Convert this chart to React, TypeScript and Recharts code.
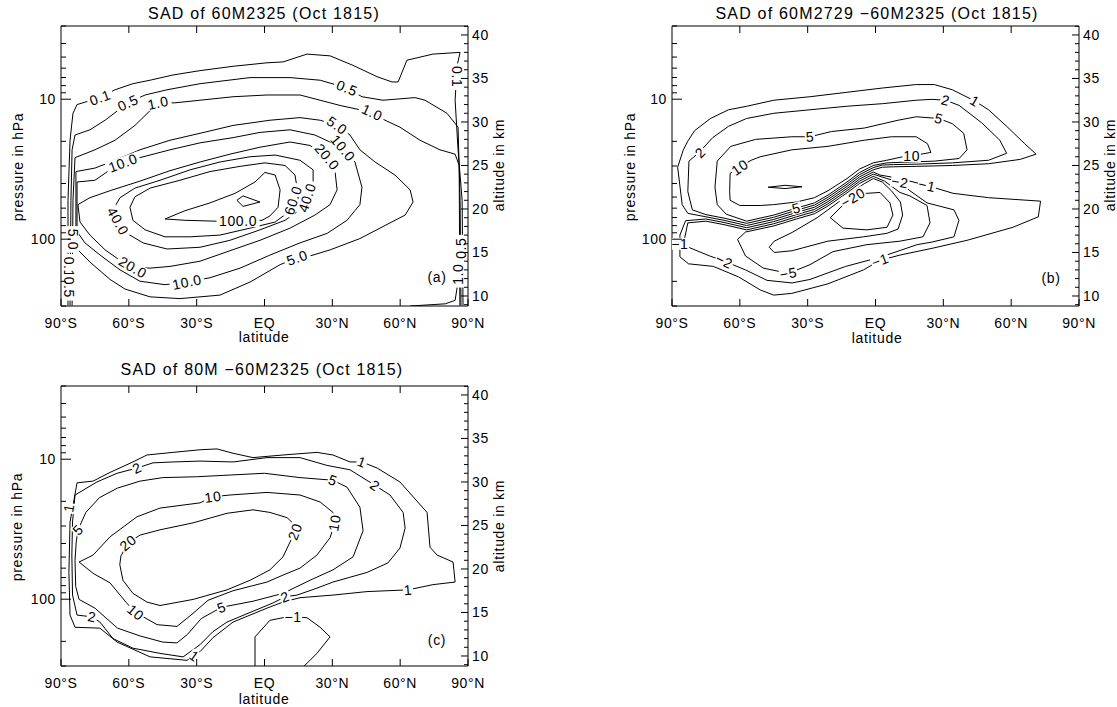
import React from 'react';
import { ComposedChart, Line, Scatter, XAxis, YAxis } from 'recharts';

type Pt = [number, number];
type Lab = [string, number, number, number];

const FONT = '"Liberation Sans", Arial, Helvetica, sans-serif';

// ---------- axes ----------
const LAT_TICKS = [-90, -60, -30, 0, 30, 60, 90];
const LAT_LABELS = ['90°S', '60°S', '30°S', 'EQ', '30°N', '60°N', '90°N'];
const P_TICKS = [3, 4, 5, 6, 7, 8, 9, 10, 20, 30, 40, 50, 60, 70, 80, 90, 100, 200, 300];
const P_LABELED = [10, 100];
const KM_TICKS = [9, 10, 11, 12, 13, 14, 15, 16, 17, 18, 19, 20, 21, 22, 23, 24, 25, 26, 27, 28, 29, 30, 31, 32, 33, 34, 35, 36, 37, 38, 39, 40, 41];
const KM_LABELED = [10, 15, 20, 25, 30, 35, 40];

// ---------- panel (a): SAD of 60M2325 ; contours as [latitude, altitude km] ----------
const A_01: Pt[] = [[-86.9, 8.9], [-86.9, 21], [-86, 27.9], [-84.7, 31], [-82.9, 32], [-72.7, 32.8], [-66.1, 33.7], [-58.2, 34.4], [-50.6, 34.8], [-40.5, 35.4], [-28.5, 35.9], [-13.9, 36.4], [1.1, 36.8], [8.2, 36.9], [18.8, 37.8], [29, 37.6], [39.2, 36.5], [49.8, 35.2], [56.4, 34.6], [59.1, 34.6], [63, 37.1], [74.5, 37.8], [86.5, 38], [85.2, 36.5], [84.3, 32.5], [85.6, 26.8], [87.4, 21], [87.8, 8.9]];
const A_01B: Pt[] = [[64.4, 8.85], [80, 9.1], [84.3, 9.5], [85.2, 11], [86, 14]];
const A_05: Pt[] = [[-86, 8.9], [-85.6, 21], [-85.1, 26.8], [-83.8, 28.5], [-77.2, 29.1], [-70.5, 30.2], [-60.4, 32.2], [-52.8, 33.1], [-43.1, 33.7], [-28.5, 34.4], [-6.4, 35.1], [11.3, 35.1], [24.6, 34.8], [36.5, 33.9], [43.1, 32.9], [52.4, 32.5], [66.6, 32.8], [71, 32.5], [80.7, 31], [85.6, 29.4], [86.5, 21], [86.9, 8.9]];
const A_1: Pt[] = [[-85.1, 8.9], [-84.7, 21], [-83.8, 25.9], [-75, 26.8], [-66.1, 27.9], [-57.3, 29.6], [-47.1, 32.2], [-39.6, 32.2], [-28.5, 32.5], [-13.9, 32.9], [1.1, 33.1], [15.7, 33.1], [24.6, 32.5], [33.4, 31.9], [47.6, 31.1], [53.3, 30.2], [59.9, 29.4], [68.8, 27.9], [77.6, 26.8], [84.3, 26.3], [86.1, 25], [86.4, 8.9]];
const A_5: Pt[] = [[-83.4, 16.4], [-83.4, 24.3], [-75, 24.7], [-66.1, 25.6], [-55.1, 26.8], [-41.8, 27.9], [-28.5, 28.7], [-13.9, 29.6], [2.4, 30.2], [15.7, 30.5], [24.6, 30.2], [32.1, 29.6], [37.8, 28.5], [42.2, 26.8], [48.9, 25.4], [57.7, 23.9], [64.4, 22.2], [65.7, 20.8], [62.2, 19.3], [53.3, 18.1], [42.2, 16.6], [29, 15.3], [20.1, 14.6], [14.4, 14.4], [6.9, 13.6], [-6.4, 11.6], [-19.7, 10.1], [-37.4, 9.7], [-50.6, 9.9], [-61.7, 10.8], [-68.3, 11.9], [-77.2, 13.9], [-82.5, 15.3], [-83.4, 16.4]];
const A_10: Pt[] = [[-82.9, 17.4], [-82.9, 23.1], [-75, 23.3], [-68.3, 24.5], [-62.6, 25.3], [-55.1, 25.9], [-41.8, 26.8], [-28.5, 27.6], [-13.9, 28.2], [-2, 28.8], [11.3, 29.1], [22.3, 28.5], [34.7, 27], [40, 25.4], [43.1, 22.5], [42.2, 20.5], [36.5, 18.7], [27.7, 17.2], [15.7, 16.1], [2.4, 14.7], [-10.8, 13.2], [-24.1, 12.1], [-34.3, 11.6], [-44, 11.3], [-55.1, 11.7], [-63.9, 13], [-72.7, 14.7], [-79.4, 16.1], [-82.9, 17.4]];
const A_20: Pt[] = [[-82.5, 20.5], [-77.2, 21.3], [-68.3, 22.1], [-55.1, 23.2], [-41.8, 24.4], [-28.5, 25.4], [-15.3, 26.3], [-2, 27.1], [11.3, 27.7], [20.1, 27.3], [27.7, 26], [31.2, 24.3], [32.1, 22.2], [29, 20.5], [22.3, 19.3], [11.3, 17.8], [-2, 16.4], [-15.3, 15.2], [-28.5, 14], [-41.8, 13.4], [-50.6, 13.2], [-58.2, 13.3], [-63.9, 14.1], [-70.5, 15.3], [-77.2, 17], [-81.6, 18.5], [-82.5, 20.5]];
const A_40: Pt[] = [[-67, 19.9], [-63.9, 21.3], [-57.3, 22.4], [-46.2, 23.3], [-32.9, 24.5], [-19.7, 25.4], [-6.4, 26], [4.7, 26.2], [15.7, 25.6], [21.5, 24.5], [21.5, 22.8], [18.8, 21.3], [15.7, 19.9], [9.1, 18.7], [-2, 17.6], [-15.3, 16.4], [-28.5, 15.6], [-43.1, 15.4], [-53.7, 16.1], [-60.8, 17.2], [-64.8, 18.5], [-67, 19.9]];
const A_60: Pt[] = [[-59.5, 20.2], [-57.3, 21.4], [-50.6, 22.4], [-37.4, 23.3], [-24.1, 24.3], [-10.8, 24.9], [0.2, 25.3], [9.1, 25], [13.5, 23.9], [14.4, 22.4], [12.6, 21], [10.4, 19.6], [4.7, 18.5], [-6.4, 17.8], [-19.7, 17], [-32.9, 16.8], [-44, 16.8], [-52.8, 17.6], [-58.2, 18.7], [-59.5, 20.2]];
const A_100: Pt[] = [[-44, 18.85], [-35.2, 19.8], [-24.1, 20.7], [-13, 21.8], [-4.2, 23.1], [0.2, 24.2], [4.7, 23.9], [6.9, 22.2], [6, 20.2], [2.4, 19.2], [-1.1, 18.7], [-11.7, 18.6], [-21.9, 18.6], [-35.2, 18.7], [-44, 18.85]];
const A_100B: Pt[] = [[-12.2, 21], [-9.5, 21.5], [-2, 20.8], [-9.5, 20.3], [-12.2, 21]];
const A_LABELS: Lab[] = [
  ['0.1', -72.7, 32.8, -20], ['0.5', -60.4, 32.2, -25], ['1.0', -47.1, 32.2, -12], ['0.5', 36.5, 33.9, 22],
  ['1.0', 47.6, 31.1, 25], ['0.1', 85.2, 35.2, 90], ['10.0', -62.6, 25.3, -20], ['5.0', 32.1, 29.6, 35],
  ['10.0', 34.7, 27, 50], ['20.0', 27.7, 26, 50], ['60.0', 12.6, 21, -72], ['40.0', 18.8, 21.3, -72],
  ['100.0', -11.7, 18.6, 0], ['40.0', -64.8, 18.6, 60], ['20.0', -58.2, 13.3, 30], ['10.0', -34.3, 11.6, -12],
  ['5.0', 14.4, 14.4, -20], ['5.0', -84.7, 16.5, 90], ['0.1', -86.5, 13.3, 90], ['0.5', -86.5, 11, 90],
  ['1.0', 85.6, 12.5, -90], ['0.5', 86.8, 15.5, -90],
];

// ---------- panel (b): SAD of 60M2729 - 60M2325 ----------
const B_P1: Pt[] = [[-85, 26.8], [-83, 27.8], [-80, 29], [-73, 30.4], [-65, 31.4], [-57, 31.8], [-45, 32.5], [-29, 32.9], [-13, 33.4], [3, 33.9], [18, 34.3], [26, 34.3], [34, 33.7], [44, 32.4], [50, 31.4], [58, 29.5], [66, 27.5], [71, 26.3], [64, 25.7], [50, 25.2], [34, 25], [18, 24.9], [8, 24.85], [3, 24.8], [-1, 24.5], [-7, 23.7], [-12.6, 22.6], [-21, 21.1], [-27, 20.2], [-35, 19.6], [-45, 18.8], [-57, 18.1], [-67, 18.7], [-75, 19.1], [-83, 19.5], [-85.5, 20.5], [-87.5, 24.8], [-85, 26.8]];
const B_P2: Pt[] = [[-83, 22], [-82.5, 25.5], [-78, 26.5], [-72, 28.2], [-65, 29.5], [-57, 30.4], [-45, 31], [-29, 31.4], [-13, 31.8], [3, 32.1], [18, 32.5], [25, 32.6], [31, 32.5], [37, 31.9], [47, 29.9], [55, 27.9], [58, 26.4], [50, 25.6], [34, 25.3], [18, 25.15], [8, 25.1], [3, 25.05], [-1, 24.75], [-7, 23.95], [-12.6, 22.85], [-21, 21.35], [-27, 20.45], [-35, 19.85], [-45, 19.05], [-57, 18.35], [-67, 18.95], [-75, 19.35], [-81, 19.9], [-83, 22]];
const B_P5: Pt[] = [[-71, 22.5], [-70, 25.5], [-64, 27.2], [-53, 28], [-37, 28.3], [-29, 28.3], [-19.5, 28.9], [-5, 29.3], [10, 30.2], [18, 30.6], [28, 30.4], [34, 29.8], [39, 28.7], [40.5, 26.8], [37, 25.8], [26, 25.5], [15, 25.4], [5, 25.3], [-1, 25], [-7, 24.2], [-12.6, 23.1], [-21, 21.6], [-27, 20.7], [-35, 20.1], [-45, 19.3], [-57, 18.6], [-66, 19.4], [-70, 20.5], [-71, 22.5]];
const B_P10: Pt[] = [[-64.5, 22], [-64.3, 24.1], [-60, 24.8], [-55, 25.6], [-51, 26], [-37, 26.8], [-21, 27.2], [-5, 27.9], [7, 28.3], [18, 28.3], [23, 27.5], [24.5, 26.5], [18, 26.2], [12, 26], [5, 25.6], [-1, 25.3], [-7, 24.6], [-12.6, 23.5], [-21, 22.1], [-27, 21.3], [-35, 20.8], [-45, 20.5], [-51, 20.4], [-60, 20.4], [-64.3, 21], [-64.5, 22]];
const B_P20: Pt[] = [[-47.5, 22.5], [-40, 22.72], [-32.5, 22.55], [-40, 22.35], [-47.5, 22.5]];
const B_M1: Pt[] = [[-86.5, 14.5], [-86.5, 17], [-84, 18.65], [-75, 18.85], [-67, 18.45], [-57, 17.85], [-45, 18.55], [-35, 19.35], [-27, 19.95], [-21, 20.85], [-12.6, 22.35], [-7, 23.45], [-1, 24.25], [2, 23.9], [10.8, 23.5], [22.8, 22.7], [34.3, 21.8], [50, 21.3], [73, 20.9], [72, 19.1], [60.8, 17.9], [40.5, 16.4], [25.4, 15.5], [10.8, 14.7], [2, 14.1], [-5.3, 13], [-21, 11.4], [-37, 10.3], [-45, 10.1], [-51, 10.7], [-60.6, 12.2], [-71.7, 13.4], [-82.7, 13.7], [-86.5, 14.5]];
const B_M2: Pt[] = [[-84.5, 16.5], [-83, 18.4], [-75, 18.6], [-67, 18.2], [-57, 17.6], [-45, 18.3], [-35, 19.1], [-27, 19.7], [-21, 20.6], [-12.6, 22.1], [-7, 23.2], [-1, 24], [5, 23.5], [10.8, 23.1], [15.2, 22.1], [22.8, 20.7], [34.7, 19.9], [36.9, 18.7], [34.7, 16.8], [25, 16.2], [18.4, 15.9], [2.6, 14.5], [-13.2, 13.4], [-29, 11.9], [-36.9, 11.5], [-48, 11.8], [-57.5, 13], [-66.9, 14], [-73.3, 14.6], [-82.7, 15.6], [-84.5, 16.5]];
const B_M5: Pt[] = [[-61, 16.5], [-57.5, 17.35], [-45, 18.05], [-35, 18.85], [-27, 19.45], [-21, 20.35], [-12.6, 21.85], [-7, 22.95], [-1, 23.75], [4, 23.2], [10.8, 21.9], [15.2, 21.5], [22.8, 20.4], [24.1, 18.4], [21, 16.8], [10.8, 16.3], [-3.8, 15.9], [-18.8, 15.1], [-29, 13.6], [-38.5, 12.6], [-49.6, 13.2], [-57.5, 14.6], [-61, 16.5]];
const B_M10: Pt[] = [[-47, 15.6], [-44.8, 16.3], [-36.9, 17.3], [-25.8, 19], [-16.3, 20.8], [-10, 22], [-5, 22.9], [-1, 23.5], [3, 23.1], [7, 22.1], [11, 20.8], [12, 19.3], [10, 17.7], [5, 17.2], [-5.3, 16.8], [-21.1, 16.3], [-36.9, 15.2], [-44.8, 15], [-47, 15.6]];
const B_M20: Pt[] = [[-20, 19], [-12.6, 20.9], [-7, 21.6], [-3.8, 21.8], [2, 21.9], [6.4, 20.7], [7.7, 19.3], [5.1, 17.9], [-3.8, 17.6], [-14.4, 17.8], [-20, 19]];
const B_LABELS: Lab[] = [
  ['2', -77.5, 26.5, -45], ['10', -60, 24.8, -35], ['5', -29, 28.3, -5], ['2', 31, 32.5, 15], ['1', 44, 32.4, 30],
  ['5', 28, 30.4, 15], ['10', 16, 26.1, 0], ['5', -35, 20.1, -15], ['−20', -10, 21.3, -30], ['−2', 10.8, 23.1, 10],
  ['−1', 22.8, 22.7, 12], ['−2', -66.9, 14, 25], ['−5', -38.5, 12.6, -10], ['−1', 2, 14.1, -20], ['−1', -86.5, 16, 0],
];

// ---------- panel (c): SAD of 80M - 60M2325 ----------
const C_1: Pt[] = [[-82.9, 29.9], [-75.8, 30.1], [-68.3, 31.1], [-58.2, 32.3], [-52, 33.1], [-40.5, 33.4], [-28.5, 33.7], [-21, 33.8], [-13.9, 33.3], [-5.1, 32.8], [8.2, 33.1], [23.2, 33.4], [30.3, 33.1], [37.8, 32.3], [43.1, 32.3], [49.8, 31.6], [59.9, 30], [71.9, 26.5], [73.2, 22.5], [76.3, 21.6], [83.4, 20.8], [84.3, 18.5], [74.5, 18.2], [63.5, 17.6], [45.3, 17.4], [30.3, 17], [15.7, 16.7], [8.2, 16.2], [1.1, 15.5], [-13.9, 13.9], [-22.8, 12.1], [-28.5, 10.5], [-34.3, 9.5], [-50.6, 9.9], [-65.2, 11.6], [-72.8, 13.2], [-83.8, 13.3], [-86, 14.7], [-86.5, 19.6], [-86, 25.4], [-82.9, 29.9]];
const C_2: Pt[] = [[-83.8, 28.5], [-74.1, 30], [-65.2, 31], [-56.4, 31.6], [-49.3, 32.2], [-40.5, 32.3], [-28.5, 32.4], [-13.9, 32.3], [1.1, 32.8], [15.7, 32.8], [27.7, 31.9], [37.8, 31.4], [48.9, 29.6], [55.5, 28.5], [61.3, 26.5], [62.2, 24.7], [59.9, 22.4], [54.6, 20.7], [45.3, 19.6], [30.3, 18.5], [23.2, 17.8], [14.4, 17], [9.1, 16.8], [3.8, 16.1], [-6.4, 15], [-16.6, 13.9], [-22.8, 12.8], [-28.5, 11.3], [-36, 9.9], [-46.2, 10.3], [-58.2, 10.9], [-67, 12], [-72.8, 13.9], [-76.3, 14.5], [-82.9, 14.7], [-84.9, 17], [-85.2, 21.6], [-84.9, 25.4], [-83.8, 28.5]];
const C_5: Pt[] = [[-83.3, 23], [-82.5, 24.5], [-79, 26.5], [-73, 28.2], [-65, 29.3], [-55, 30.1], [-45, 30.5], [-30, 30.6], [-15, 30.8], [0, 31], [15.7, 30.5], [30.3, 30.2], [36.5, 29.4], [42.2, 27.1], [43.6, 24.4], [39.2, 21.4], [30.3, 19.9], [20.1, 18.7], [8.2, 17.2], [-5, 16.3], [-19, 15.6], [-28, 14.3], [-34, 12.5], [-38.7, 11.5], [-45, 11.6], [-55, 12.3], [-65, 13.2], [-75, 15.5], [-82, 16.5], [-83.5, 18], [-83.8, 21], [-83.3, 23]];
const C_10: Pt[] = [[-82, 20.8], [-75.8, 21.6], [-68.3, 23.7], [-56.4, 26], [-46.2, 27], [-28.5, 27.6], [-22.8, 28.3], [-15.3, 28.5], [1.1, 28.8], [15.7, 28.5], [24.6, 27.7], [30.3, 26.5], [31.2, 25.4], [29, 23.6], [23.2, 21.6], [15.7, 20.1], [8.2, 19.3], [1.1, 18.5], [-13.9, 17.5], [-25, 16.4], [-31.6, 14.9], [-38.7, 13.4], [-47.5, 13.6], [-57, 15], [-61, 16.1], [-68.3, 18.4], [-75.8, 19.5], [-82, 20.8]];
const C_20: Pt[] = [[-63.5, 21.5], [-60.4, 23], [-55, 23.9], [-46.2, 24.5], [-31.6, 25.3], [-16.6, 26.4], [-5.1, 26.8], [2.4, 26.5], [10, 25.9], [14.4, 24.8], [12.2, 23.6], [8.2, 21.4], [2.4, 19.9], [-6.4, 18.7], [-16.6, 17.6], [-31.6, 16.5], [-46.2, 15.8], [-52, 16.2], [-58.2, 17.2], [-62.6, 18.7], [-64, 20.5], [-63.5, 21.5]];
const C_M1: Pt[] = [[-4.2, 8.7], [-4.2, 12.2], [2.4, 14.1], [8.2, 14.4], [12.6, 14.5], [18.8, 14.4], [24.6, 13.3], [29, 12.2], [23.2, 10.3], [17, 8.7]];
const C_LABELS: Lab[] = [
  ['1', -86.5, 27, -80], ['2', -56.4, 31.6, -25], ['1', 43.1, 32.3, 20], ['2', 48.9, 29.6, 35], ['5', -82.5, 24.5, -45],
  ['5', 30.3, 30.2, 20], ['10', -22.8, 28.3, -8], ['20', -60.4, 23, -40], ['20', 13.5, 24.3, -70], ['10', 31, 25.3, -80],
  ['10', -57, 15, 40], ['5', -19, 15.6, -20], ['2', 9.1, 16.8, -20], ['1', 63.5, 17.6, -5], ['2', -76.3, 14.5, 10],
  ['1', -31, 10, 35], ['−1', 12.6, 14.5, 0],
];

const PANEL_A = [A_01, A_01B, A_05, A_1, A_5, A_10, A_20, A_40, A_60, A_100, A_100B];
const PANEL_B = [B_P1, B_P2, B_P5, B_P10, B_P20, B_M1, B_M2, B_M5, B_M10, B_M20];
const PANEL_C = [C_1, C_2, C_5, C_10, C_20, C_M1];

// ---------- rendering ----------
const toRows = (pts: Pt[]) => pts.map(([lat, z]) => ({ lat, z }));
const toLabelRows = (labs: Lab[]) => labs.map(([t, lat, z, a]) => ({ t, lat, z, a }));

const TICK_FS = 14;

const BottomTick = (props: any) => {
  const { x, y, payload } = props;
  const i = LAT_TICKS.indexOf(payload.value);
  return (
    <g>
      <line x1={x} y1={y} x2={x} y2={y - 7} stroke="#000" strokeWidth={1} />
      <text x={x} y={y + 22} textAnchor="middle" fontSize={TICK_FS} fontFamily={FONT} fill="#000" letterSpacing={0.6}>
        {LAT_LABELS[i]}
      </text>
    </g>
  );
};
const TopTick = (props: any) => {
  const { x, y } = props;
  return <line x1={x} y1={y} x2={x} y2={y + 7} stroke="#000" strokeWidth={1} />;
};
const LeftTick = (props: any) => {
  const { x, y, payload } = props;
  const major = P_LABELED.includes(payload.value);
  return (
    <g>
      <line x1={x} y1={y} x2={x + (major ? 10 : 5)} y2={y} stroke="#000" strokeWidth={1} />
      {major && (
        <text x={x - 5} y={y + 5} textAnchor="end" fontSize={TICK_FS} fontFamily={FONT} fill="#000" letterSpacing={0.6}>
          {payload.value}
        </text>
      )}
    </g>
  );
};
const RightTick = (props: any) => {
  const { x, y, payload } = props;
  const major = KM_LABELED.includes(payload.value);
  return (
    <g>
      <line x1={x} y1={y} x2={x - (major ? 7 : 4)} y2={y} stroke="#000" strokeWidth={1} />
      {major && (
        <text x={x + 4} y={y + 5} textAnchor="start" fontSize={TICK_FS} fontFamily={FONT} fill="#000" letterSpacing={0.6}>
          {payload.value}
        </text>
      )}
    </g>
  );
};
const LabelShape = (props: any) => {
  const { cx, cy, payload } = props;
  if (cx == null || cy == null) return null;
  const t: string = payload.t;
  const w = t.length * 8.2 + 2;
  return (
    <g transform={`translate(${cx},${cy}) rotate(${payload.a})`}>
      <rect x={-w / 2} y={-6} width={w} height={12} fill="#fff" />
      <text x={0} y={5} textAnchor="middle" fontSize={14} fontFamily={FONT} fill="#000" letterSpacing={0.6}>
        {t}
      </text>
    </g>
  );
};

const W = 506;
const H = 340;

function Panel({ left, top, contours, labels }: { left: number; top: number; contours: Pt[][]; labels: Lab[] }) {
  return (
    <div style={{ position: 'absolute', left, top, width: W, height: H }}>
      <ComposedChart width={W} height={H} margin={{ top: 25, right: 8, bottom: 33, left: 0 }}>
        <XAxis xAxisId="b" dataKey="lat" type="number" domain={[-90, 90]} ticks={LAT_TICKS} interval={0}
          allowDataOverflow height={1} tickSize={0} tickMargin={0} tickLine={false}
          axisLine={{ stroke: '#000', strokeWidth: 1 }} tick={<BottomTick />} />
        <XAxis xAxisId="t" orientation="top" dataKey="lat" type="number" domain={[-90, 90]} ticks={[-60, -30, 0, 30, 60]}
          interval={0} allowDataOverflow height={1} tickSize={0} tickMargin={0} tickLine={false}
          axisLine={{ stroke: '#000', strokeWidth: 1 }} tick={<TopTick />} />
        <YAxis yAxisId="p" orientation="left" type="number" scale="log" domain={[3, 300]} reversed ticks={P_TICKS}
          interval={0} allowDataOverflow width={61} tickSize={0} tickMargin={0} tickLine={false}
          axisLine={{ stroke: '#000', strokeWidth: 1 }} tick={<LeftTick />} />
        <YAxis yAxisId="km" orientation="right" type="number" domain={[8.85, 41.03]} ticks={KM_TICKS}
          interval={0} allowDataOverflow width={30} tickSize={0} tickMargin={0} tickLine={false}
          axisLine={{ stroke: '#000', strokeWidth: 1 }} tick={<RightTick />} />
        {contours.map((c, i) => (
          <Line key={i} xAxisId="b" yAxisId="km" data={toRows(c)} dataKey="z" type="linear" dot={false}
            activeDot={false} stroke="#000" strokeWidth={1} isAnimationActive={false} legendType="none" />
        ))}
        <Scatter xAxisId="b" yAxisId="km" data={toLabelRows(labels)} dataKey="z" shape={<LabelShape />}
          isAnimationActive={false} legendType="none" />
      </ComposedChart>
    </div>
  );
}

const txt: React.CSSProperties = {
  position: 'absolute', fontFamily: FONT, color: '#000', whiteSpace: 'nowrap', lineHeight: '1',
};
const T = ({ x, y, s, size = 14, rot = 0, ls = 0.7 }: { x: number; y: number; s: string; size?: number; rot?: number; ls?: number }) => (
  <div style={{ ...txt, left: x, top: y, fontSize: size, letterSpacing: ls, transform: `translate(-50%,-50%) rotate(${rot}deg)` }}>{s}</div>
);

export default function App() {
  return (
    <div style={{ position: 'absolute', left: 0, top: 0, width: 1117, height: 707, background: '#fff', overflow: 'hidden' }}>
      <Panel left={0} top={0} contours={PANEL_A} labels={A_LABELS} />
      <Panel left={611} top={0} contours={PANEL_B} labels={B_LABELS} />
      <Panel left={0} top={360} contours={PANEL_C} labels={C_LABELS} />

      <T x={264} y={14} s="SAD of 60M2325 (Oct 1815)" size={16} ls={1.2} />
      <T x={877} y={14} s="SAD of 60M2729 −60M2325 (Oct 1815)" size={16} ls={1.2} />
      <T x={262} y={370} s="SAD of 80M −60M2325 (Oct 1815)" size={16} ls={1.2} />

      <T x={264} y={337} s="latitude" />
      <T x={877} y={338} s="latitude" />
      <T x={264} y={699} s="latitude" />

      <T x={18} y={167} s="pressure in hPa" rot={-90} />
      <T x={630} y={167} s="pressure in hPa" rot={-90} />
      <T x={17} y={527} s="pressure in hPa" rot={-90} />

      <T x={499} y={165} s="altitude in km" rot={-90} />
      <T x={1110} y={165} s="altitude in km" rot={-90} />
      <T x={499} y={526} s="altitude in km" rot={-90} />

      <T x={437} y={277} s="(a)" />
      <T x={1051} y={278} s="(b)" />
      <T x={437} y={640} s="(c)" />
    </div>
  );
}
